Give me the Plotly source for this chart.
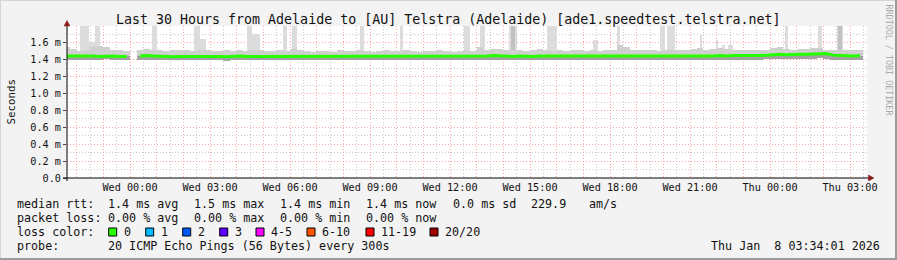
import plotly.graph_objects as go
import pandas as pd
import numpy as np

# ---------------- data ----------------
bin_start = "2026-01-06 21:30"      # first 15-minute bin
range_start = "2026-01-06 21:38:15"
range_end = "2026-01-08 03:38:15"

# median rtt per 15-minute bin (ms); None = no data
median_rtt = [
    1.445, 1.445, 1.45, 1.445, 1.445, 1.44, 1.445, 1.445, 1.44, 1.44,
    None, 1.445, 1.45, 1.445, 1.44, 1.44, 1.435, 1.44, 1.44, 1.445,
    1.44, 1.445, 1.44, 1.44, 1.435, 1.44, 1.445, 1.44, 1.44, 1.445,
    1.445, 1.44, 1.44, 1.445, 1.44, 1.44, 1.445, 1.445, 1.44, 1.44,
    1.44, 1.445, 1.44, 1.44, 1.445, 1.44, 1.44, 1.445, 1.44, 1.44,
    1.445, 1.44, 1.44, 1.445, 1.445, 1.44, 1.44, 1.445, 1.445, 1.44,
    1.445, 1.445, 1.44, 1.445, 1.45, 1.445, 1.445, 1.44, 1.445, 1.44,
    1.44, 1.445, 1.445, 1.44, 1.445, 1.445, 1.44, 1.445, 1.445, 1.44,
    1.44, 1.445, 1.44, 1.445, 1.445, 1.44, 1.44, 1.445, 1.44, 1.44,
    1.445, 1.44, 1.445, 1.445, 1.44, 1.44, 1.445, 1.445, 1.45, 1.445,
    1.45, 1.45, 1.445, 1.45, 1.45, 1.455, 1.46, 1.465, 1.46, 1.465,
    1.465, 1.465, 1.47, 1.475, 1.475, 1.455, 1.45, 1.45, 1.445, 1.45,
]
# lowest ping per bin (ms)
smoke_min = [
    1.40, 1.395, 1.40, 1.40, 1.395, 1.40, 1.405, 1.40, 1.395, 1.40,
    None, 1.40, 1.40, 1.395, 1.40, 1.40, 1.395, 1.40, 1.40, 1.40,
    1.395, 1.40, 1.40, 1.395, 1.39, 1.40, 1.40, 1.395, 1.40, 1.40,
    1.40, 1.395, 1.40, 1.40, 1.395, 1.40, 1.40, 1.40, 1.395, 1.40,
    1.395, 1.40, 1.40, 1.395, 1.40, 1.40, 1.395, 1.40, 1.40, 1.395,
    1.40, 1.40, 1.395, 1.40, 1.40, 1.395, 1.40, 1.40, 1.40, 1.395,
    1.40, 1.40, 1.395, 1.40, 1.40, 1.40, 1.395, 1.40, 1.40, 1.395,
    1.40, 1.40, 1.395, 1.40, 1.40, 1.395, 1.40, 1.40, 1.40, 1.395,
    1.40, 1.40, 1.395, 1.40, 1.40, 1.395, 1.40, 1.40, 1.395, 1.40,
    1.40, 1.395, 1.40, 1.40, 1.395, 1.40, 1.40, 1.395, 1.40, 1.40,
    1.40, 1.395, 1.40, 1.40, 1.40, 1.405, 1.41, 1.41, 1.405, 1.41,
    1.41, 1.41, 1.415, 1.42, 1.415, 1.40, 1.40, 1.395, 1.40, 1.40,
]
# typical highest ping per bin (ms)
smoke_max = [
    1.55, 1.53, 1.50, 1.52, 1.55, 1.56, 1.55, 1.52, 1.51, 1.50,
    None, 1.51, 1.53, 1.51, 1.51, 1.50, 1.51, 1.52, 1.51, 1.50,
    1.52, 1.51, 1.50, 1.50, 1.51, 1.50, 1.51, 1.50, 1.52, 1.51,
    1.50, 1.50, 1.51, 1.50, 1.53, 1.51, 1.50, 1.49, 1.50, 1.50,
    1.49, 1.51, 1.50, 1.50, 1.51, 1.50, 1.49, 1.50, 1.52, 1.50,
    1.50, 1.51, 1.50, 1.49, 1.50, 1.50, 1.51, 1.50, 1.49, 1.50,
    1.51, 1.50, 1.55, 1.52, 1.53, 1.53, 1.51, 1.52, 1.51, 1.50,
    1.51, 1.53, 1.51, 1.50, 1.51, 1.50, 1.52, 1.51, 1.50, 1.51,
    1.50, 1.51, 1.52, 1.58, 1.55, 1.52, 1.51, 1.52, 1.51, 1.50,
    1.51, 1.52, 1.51, 1.52, 1.53, 1.54, 1.52, 1.53, 1.54, 1.53,
    1.52, 1.51, 1.52, 1.52, 1.51, 1.52, 1.54, 1.55, 1.53, 1.52,
    1.53, 1.53, 1.54, 1.54, 1.52, 1.51, 1.52, 1.52, 1.51, 1.51,
]

# occasional high pings (outliers)
spike_start = ["2026-01-06 22:08", "2026-01-06 22:28", "2026-01-06 22:41",
               "2026-01-07 00:50", "2026-01-07 02:24", "2026-01-07 02:38",
               "2026-01-07 04:23", "2026-01-07 04:35", "2026-01-07 05:44",
               "2026-01-07 06:05", "2026-01-07 08:38", "2026-01-07 10:08",
               "2026-01-07 12:31", "2026-01-07 13:08", "2026-01-07 14:13",
               "2026-01-07 15:38", "2026-01-07 17:22", "2026-01-07 18:16",
               "2026-01-07 19:53", "2026-01-07 20:08", "2026-01-07 21:22",
               "2026-01-07 22:00", "2026-01-07 22:12", "2026-01-07 22:25",
               "2026-01-08 00:34", "2026-01-08 01:48", "2026-01-08 02:31"]
spike_end = ["2026-01-06 22:28", "2026-01-06 22:41", "2026-01-06 22:52",
             "2026-01-07 01:01", "2026-01-07 02:38", "2026-01-07 02:51",
             "2026-01-07 04:35", "2026-01-07 04:53", "2026-01-07 05:53",
             "2026-01-07 06:16", "2026-01-07 08:47", "2026-01-07 10:14",
             "2026-01-07 12:45", "2026-01-07 13:19", "2026-01-07 14:31",
             "2026-01-07 16:01", "2026-01-07 17:33", "2026-01-07 18:23",
             "2026-01-07 20:04", "2026-01-07 20:26", "2026-01-07 21:27",
             "2026-01-07 22:04", "2026-01-07 22:18", "2026-01-07 22:37",
             "2026-01-08 00:41", "2026-01-08 01:57", "2026-01-08 02:44"]
spike_max = [1.80, 1.61, 1.80, 1.80, 1.80, 1.65, 1.80, 1.70, 1.80,
             1.80, 1.80, 1.80, 1.80, 1.80, 1.80, 1.80, 1.64, 1.80,
             1.80, 1.80, 1.69, 1.63, 1.58, 1.57, 1.80, 1.80, 1.80]
# outliers seen by many pings of a round (darker smoke)
dense_start = ["2026-01-07 14:18", "2026-01-08 02:33"]
dense_end = ["2026-01-07 14:27", "2026-01-08 02:42"]
dense_max = [1.80, 1.80]

x_label_times = ["2026-01-07 00:00", "2026-01-07 03:00", "2026-01-07 06:00",
                 "2026-01-07 09:00", "2026-01-07 12:00", "2026-01-07 15:00",
                 "2026-01-07 18:00", "2026-01-07 21:00", "2026-01-08 00:00",
                 "2026-01-08 03:00"]
x_labels = ["Wed 00:00", "Wed 03:00", "Wed 06:00", "Wed 09:00", "Wed 12:00",
            "Wed 15:00", "Wed 18:00", "Wed 21:00", "Thu 00:00", "Thu 03:00"]
y_ticks = [0.0, 0.2, 0.4, 0.6, 0.8, 1.0, 1.2, 1.4, 1.6]
y_labels = ["0.0", "0.2 m", "0.4 m", "0.6 m", "0.8 m", "1.0 m", "1.2 m", "1.4 m", "1.6 m"]

rtt_stats = ["1.4 ms avg", "1.5 ms max", "1.4 ms min", "1.4 ms now", "0.0 ms sd", "229.9", "am/s"]
loss_stats = ["0.00 % avg", "0.00 % max", "0.00 % min", "0.00 % now"]
loss_labels = ["0", "1", "2", "3", "4-5", "6-10", "11-19", "20/20"]
loss_colors = ["#26ff00", "#00b8ff", "#0059ff", "#5e00ff", "#ff00ff", "#ff5500", "#ff0000", "#a10000"]
probe_text = "20 ICMP Echo Pings (56 Bytes) every 300s"
stamp = "Thu Jan  8 03:34:01 2026"
title = "Last 30 Hours from Adelaide to [AU] Telstra (Adelaide) [ade1.speedtest.telstra.net]"

# ---------------- layout geometry (pixels) ----------------
W, H = 897, 260
L, R, T, B = 67, 867, 26, 178
PW, PH = R - L, B - T
MONO = "DejaVu Sans Mono"


def xp(px):
    return (px - L) / PW


def yp(py):
    return (B - py) / PH


# ---------------- traces ----------------
bins = pd.date_range(bin_start, periods=len(median_rtt), freq="15min") + pd.Timedelta(minutes=7.5)
bin_w = 15 * 60 * 1000
med = np.array([np.nan if v is None else v for v in median_rtt], dtype=float)
lo = np.array([np.nan if v is None else v for v in smoke_min], dtype=float)
hi = np.array([np.nan if v is None else v for v in smoke_max], dtype=float)
ok = ~np.isnan(med)

fig = go.Figure()


def spike_trace(starts, ends, tops, color):
    s = pd.to_datetime(starts)
    e = pd.to_datetime(ends)
    mids = s + (e - s) / 2
    widths = [(b - a).total_seconds() * 1000 for a, b in zip(s, e)]
    base = 1.42
    return go.Bar(x=mids, y=[t - base for t in tops], base=[base] * len(tops), width=widths,
                  marker=dict(color=color, line=dict(width=0)), hoverinfo="skip", showlegend=False)


fig.add_trace(spike_trace(spike_start, spike_end, spike_max, "#dcdcdc"))
fig.add_trace(spike_trace(dense_start, dense_end, dense_max, "#c2c2c2"))
fig.add_trace(go.Bar(x=bins[ok], y=(hi - lo)[ok], base=lo[ok], width=[bin_w] * int(ok.sum()),
                     marker=dict(color="#cfcfcf", line=dict(width=0)), hoverinfo="skip", showlegend=False))
fig.add_trace(go.Bar(x=bins[ok], y=(med - lo)[ok], base=lo[ok], width=[bin_w] * int(ok.sum()),
                     marker=dict(color="#a2a2a2", line=dict(width=0)), hoverinfo="skip", showlegend=False))
fig.add_trace(go.Scatter(x=bins, y=med, mode="lines", line=dict(color="#26ff00", width=3),
                         connectgaps=False, hoverinfo="skip", showlegend=False))

hours = pd.date_range("2026-01-06 22:00", "2026-01-08 03:00", freq="1h")
label_map = dict(zip(pd.to_datetime(x_label_times), x_labels))
tick_text = [label_map.get(h, "") for h in hours]

RED = "rgba(255,90,90,0.55)"
GRAY = "rgba(150,150,150,0.5)"
DOT = "1px,2px"

fig.update_layout(
    width=W, height=H,
    margin=dict(l=L, r=W - R, t=T, b=H - B, pad=0),
    paper_bgcolor="#f3f3f3", plot_bgcolor="#ffffff",
    barmode="overlay", bargap=0,
    font=dict(family=MONO, size=10.2, color="#111111"),
    showlegend=False,
    xaxis=dict(
        type="date", range=[range_start, range_end],
        tickmode="array", tickvals=hours, ticktext=tick_text,
        showgrid=True, gridcolor=RED, griddash=DOT, gridwidth=1,
        minor=dict(tickmode="linear", tick0="2026-01-06 21:30", dtick=3600000,
                   showgrid=True, gridcolor=GRAY, griddash=DOT, gridwidth=1),
        showline=False, zeroline=False, ticks="", ticklabelstandoff=2,
        tickfont=dict(family=MONO, size=10.2, color="#111"),
        fixedrange=True,
    ),
    yaxis=dict(
        range=[0, 1.8], tickmode="array", tickvals=y_ticks, ticktext=y_labels,
        showgrid=True, gridcolor=RED, griddash=DOT, gridwidth=1,
        minor=dict(tickmode="linear", tick0=0.1, dtick=0.2,
                   showgrid=True, gridcolor=GRAY, griddash=DOT, gridwidth=1),
        showline=False, zeroline=False, ticks="outside", ticklen=3, tickcolor="#444",
        tickfont=dict(family=MONO, size=10.2, color="#111"),
        fixedrange=True,
    ),
)

shapes = []
# frame of the image
shapes.append(dict(type="rect", xref="paper", yref="paper", x0=xp(0), x1=xp(W), y0=yp(H - 2), y1=yp(H),
                   fillcolor="#9c9c9c", line=dict(width=0), layer="above"))
shapes.append(dict(type="rect", xref="paper", yref="paper", x0=xp(W - 2), x1=xp(W), y0=yp(H), y1=yp(0),
                   fillcolor="#9c9c9c", line=dict(width=0), layer="above"))
shapes.append(dict(type="rect", xref="paper", yref="paper", x0=xp(0), x1=xp(W - 2), y0=yp(1), y1=yp(0),
                   fillcolor="#d6d6d6", line=dict(width=0), layer="above"))
shapes.append(dict(type="rect", xref="paper", yref="paper", x0=xp(0), x1=xp(1), y0=yp(H - 2), y1=yp(0),
                   fillcolor="#d6d6d6", line=dict(width=0), layer="above"))
# axes with arrows
shapes.append(dict(type="line", xref="paper", yref="paper", x0=xp(L), x1=xp(L), y0=yp(B + 3), y1=yp(24),
                   line=dict(color="#000000", width=1), layer="above"))
shapes.append(dict(type="line", xref="paper", yref="paper", x0=xp(L - 4), x1=xp(870), y0=yp(B), y1=yp(B),
                   line=dict(color="#000000", width=1), layer="above"))
shapes.append(dict(type="path", xref="paper", yref="paper",
                   path=f"M {xp(L)},{yp(20.5)} L {xp(L - 3)},{yp(26)} L {xp(L + 3)},{yp(26)} Z",
                   fillcolor="#8b1a1a", line=dict(color="#8b1a1a", width=0.5), layer="above"))
shapes.append(dict(type="path", xref="paper", yref="paper",
                   path=f"M {xp(874)},{yp(B)} L {xp(868.5)},{yp(B - 3)} L {xp(868.5)},{yp(B + 3)} Z",
                   fillcolor="#8b1a1a", line=dict(color="#8b1a1a", width=0.5), layer="above"))
# loss colour boxes
box_x = [108.7, 145.7, 182.7, 219.7, 256.0, 307.0, 366.0, 430.0]
for bx, c in zip(box_x, loss_colors):
    shapes.append(dict(type="rect", xref="paper", yref="paper", x0=xp(bx), x1=xp(bx + 8),
                       y0=yp(236), y1=yp(228), fillcolor=c, line=dict(color="#000000", width=1), layer="above"))
fig.update_layout(shapes=shapes)

ann = []


def text(px, py, s, size=11.7, anchor="left", color="#111111", angle=0):
    ann.append(dict(xref="paper", yref="paper", x=xp(px), y=yp(py), text=s, showarrow=False,
                    xanchor=anchor, yanchor="middle", textangle=angle, borderpad=0,
                    font=dict(family=MONO, size=size, color=color)))


text(447.5, 19, title, size=13.3, anchor="center")
text(10.5, 102, "Seconds", size=10.8, anchor="center", angle=-90)
text(888.5, 60, "RRDTOOL / TOBI OETIKER", size=8.4, anchor="center", color="#a9a9a9", angle=90)

cols = [107.3, 193.3, 279.3, 365.3, 451.5, 530.4, 587.5]
rows = [204.3, 218.3, 232.3, 246.3]
text(16, rows[0], "median rtt:")
for cx, s in zip(cols, rtt_stats):
    text(cx, rows[0], s)
text(16, rows[1], "packet loss:")
for cx, s in zip(cols, loss_stats):
    text(cx, rows[1], s)
text(16, rows[2], "loss color:")
for bx, s in zip(box_x, loss_labels):
    text(bx + 14.3, rows[2], s)
text(16, rows[3], "probe:")
text(107.3, rows[3], probe_text)
text(881, rows[3], stamp, anchor="right")
fig.update_layout(annotations=ann)

fig.write_html("out.html")
